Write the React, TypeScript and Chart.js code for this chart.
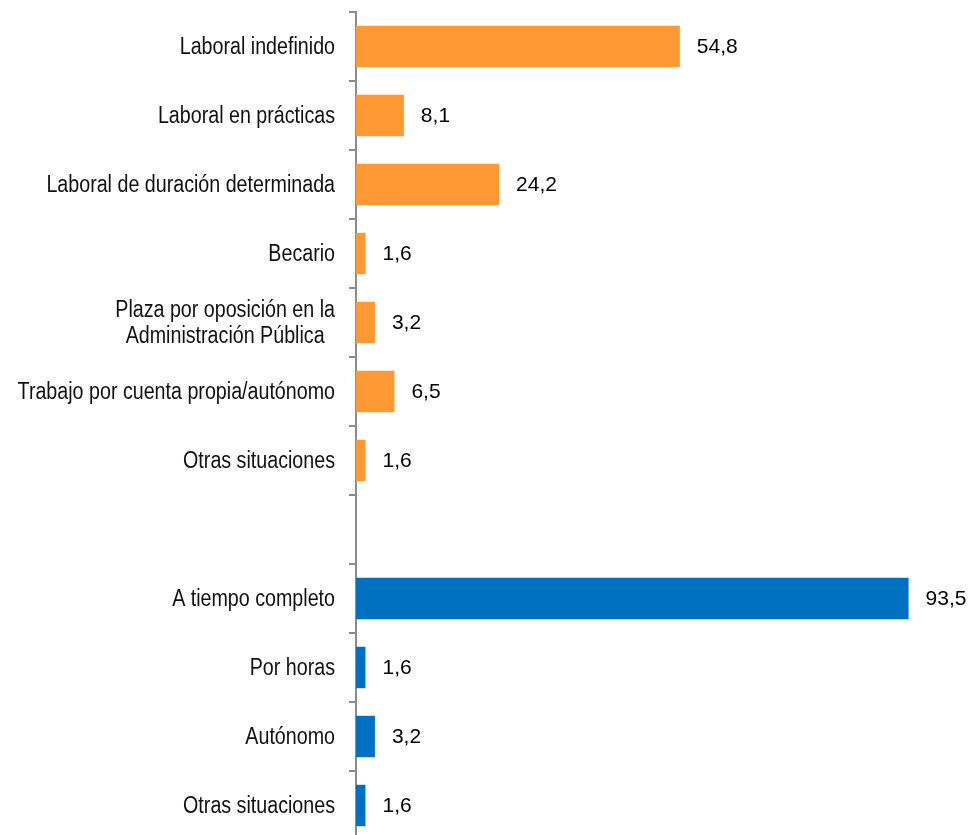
import React, { useEffect, useRef } from "react";
import { Chart, registerables } from "chart.js";

Chart.register(...registerables);

const categories: (string | string[])[] = [
  "Laboral indefinido",
  "Laboral en prácticas",
  "Laboral de duración determinada",
  "Becario",
  ["Plaza por oposición en la", "Administración Pública"],
  "Trabajo por cuenta propia/autónomo",
  "Otras situaciones",
  "",
  "A tiempo completo",
  "Por horas",
  "Autónomo",
  "Otras situaciones",
];

const contractValues: (number | null)[] = [54.8, 8.1, 24.2, 1.6, 3.2, 6.5, 1.6, null, null, null, null, null];
const workdayValues: (number | null)[] = [null, null, null, null, null, null, null, null, 93.5, 1.6, 3.2, 1.6];

const ORANGE = "#FF9933";
const BLUE = "#0070C0";
const AXIS = "#8c8c8c";

const valueLabels = {
  id: "valueLabels",
  afterDatasetsDraw(chart: any) {
    const ctx = chart.ctx;
    ctx.save();
    ctx.font = "21px 'Liberation Sans', Arial, sans-serif";
    ctx.fillStyle = "#000";
    ctx.textAlign = "left";
    ctx.textBaseline = "middle";
    chart.data.datasets.forEach((ds: any, di: number) => {
      const meta = chart.getDatasetMeta(di);
      meta.data.forEach((el: any, i: number) => {
        const v = ds.data[i];
        if (v === null || v === undefined) return;
        ctx.fillText(v.toFixed(1).replace(".", ","), el.x + 17, el.y + 1);
      });
    });
    ctx.restore();
  },
};

// Category labels drawn in a horizontally condensed sans (no narrow font installed)
const condensedLabels = {
  id: "condensedLabels",
  afterDraw(chart: any) {
    const ctx = chart.ctx;
    const yScale = chart.scales.y;
    const xRight = yScale.right - 21;
    const lineH = 26;
    const sx = 0.855;
    ctx.save();
    ctx.font = "23px 'Liberation Sans', Arial, sans-serif";
    ctx.fillStyle = "#111";
    ctx.textBaseline = "middle";
    (chart.data.labels as any[]).forEach((lab: any, i: number) => {
      const lines: string[] = Array.isArray(lab) ? lab : [lab];
      if (!lines.join("")) return;
      const yc = yScale.getPixelForValue(i) + 1;
      const maxW = Math.max(...lines.map((l) => ctx.measureText(l).width)) * sx;
      lines.forEach((ln, k) => {
        const y = yc + (k - (lines.length - 1) / 2) * lineH;
        ctx.save();
        if (lines.length > 1) {
          ctx.translate(xRight - maxW / 2, y);
          ctx.textAlign = "center";
        } else {
          ctx.translate(xRight, y);
          ctx.textAlign = "right";
        }
        ctx.scale(sx, 1);
        ctx.fillText(ln, 0, 0);
        ctx.restore();
      });
    });
    ctx.restore();
  },
};

export default function App() {
  const ref = useRef<HTMLCanvasElement>(null);
  useEffect(() => {
    document.documentElement.style.overflow = "hidden";
    const chart = new Chart(ref.current!, {
      type: "bar",
      data: {
        labels: categories,
        datasets: [
          { data: contractValues, backgroundColor: ORANGE, grouped: false, barPercentage: 0.6, categoryPercentage: 1 } as any,
          { data: workdayValues, backgroundColor: BLUE, grouped: false, barPercentage: 0.6, categoryPercentage: 1 } as any,
        ],
      },
      options: {
        indexAxis: "y",
        animation: false,
        responsive: false,
        maintainAspectRatio: false,
        layout: { padding: { top: 12, bottom: 2, right: 23, left: 0 } },
        plugins: { legend: { display: false }, tooltip: { enabled: false } },
        scales: {
          x: { display: false, min: 0, max: 100 },
          y: {
            afterFit: (s: any) => {
              s.width = 356;
              s.paddingTop = 0;
              s.paddingBottom = 0;
            },
            grid: {
              display: true,
              drawOnChartArea: false,
              drawTicks: true,
              tickLength: 7,
              offset: true,
              color: AXIS,
              lineWidth: 2,
            },
            border: { display: true, color: AXIS, width: 2 },
            ticks: { display: false },
          },
        },
      },
      plugins: [valueLabels, condensedLabels],
    });
    return () => chart.destroy();
  }, []);
  return (
    <div style={{ position: "fixed", left: 0, top: 0, width: 970, height: 842, background: "#fff" }}>
      <canvas ref={ref} width={970} height={842} style={{ width: 970, height: 842, display: "block" }} />
    </div>
  );
}
